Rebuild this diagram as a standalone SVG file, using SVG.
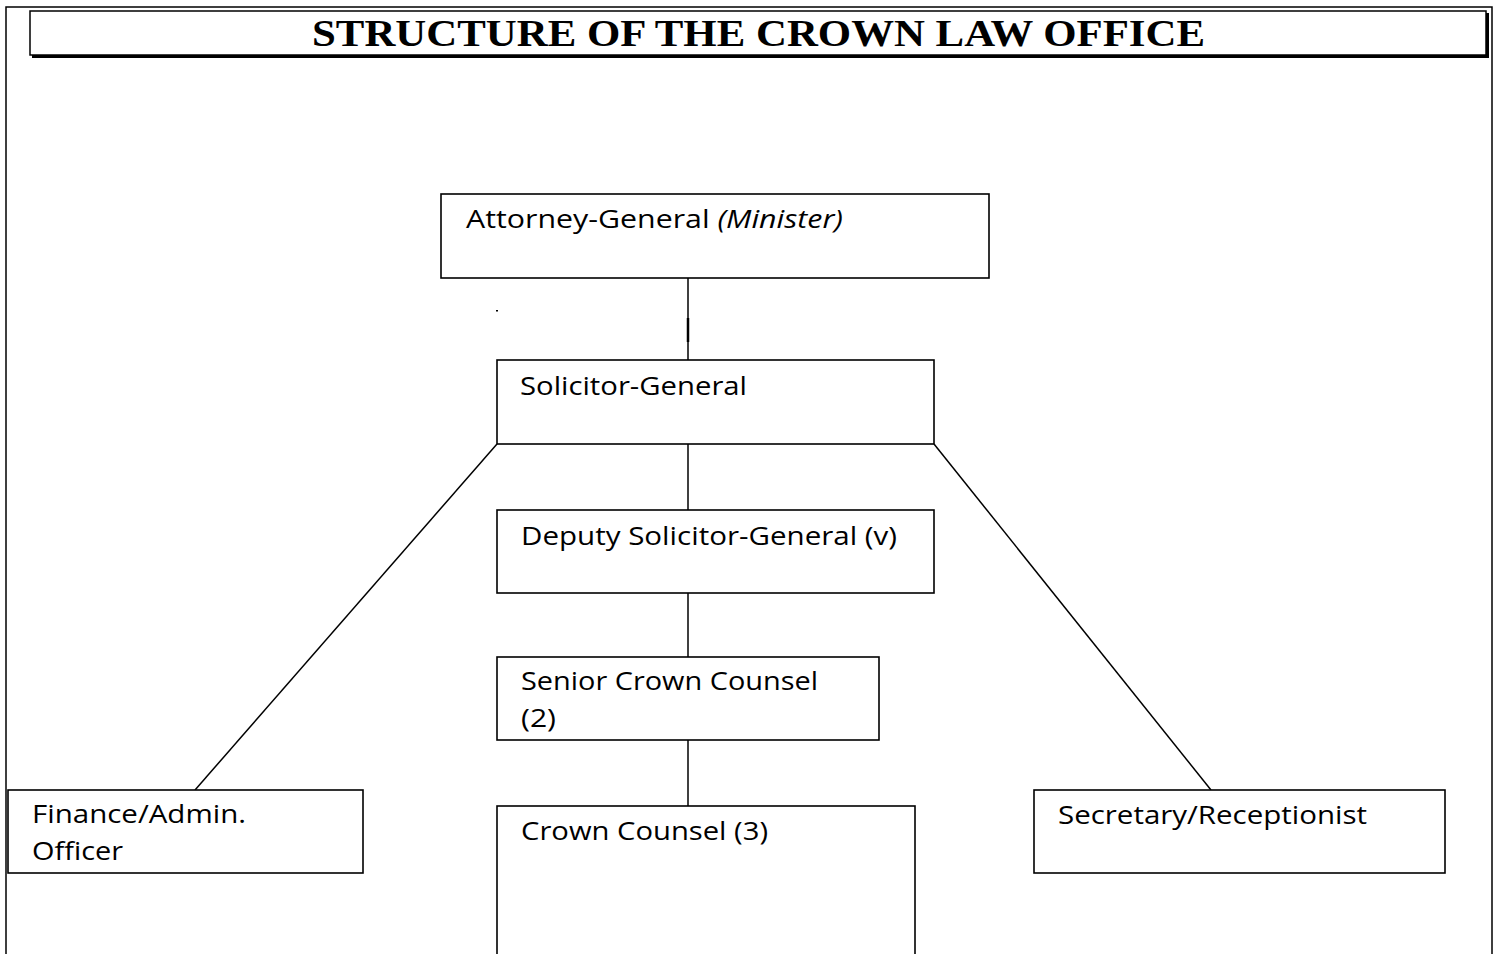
<svg xmlns="http://www.w3.org/2000/svg" width="1499" height="954" viewBox="0 0 1499 954">
  <style>
    .frame { fill: none; stroke: #000; stroke-width: 1.5; }
    .box { fill: #fff; stroke: #000; stroke-width: 1.6; }
    .conn { fill: none; stroke: #000; stroke-width: 1.5; }
    .lbl { font-family: "Open Sans", "Liberation Sans", sans-serif; font-size: 25px; fill: #000; }
    .title { font-family: "Liberation Serif", "Times New Roman", serif; font-weight: bold; font-size: 38px; fill: #000; }
  </style>
  <rect width="1499" height="954" fill="#fff"/>

  <!-- page frame -->
  <g id="page-frame">
    <path class="frame" d="M6,954 V7 H1492 V954"/>
  </g>

  <!-- heading banner with drop shadow on bottom/right -->
  <g id="title">
    <rect class="frame" x="30" y="11" width="1456" height="44"/>
    <path d="M32,56.5 H1487.5 V13" fill="none" stroke="#000" stroke-width="3"/>
    <text class="title" x="312" y="46" textLength="893" lengthAdjust="spacingAndGlyphs">STRUCTURE OF THE CROWN LAW OFFICE</text>
  </g>

  <!-- reporting lines -->
  <g id="connectors">
    <line class="conn" x1="688" y1="278" x2="688" y2="360"/>
    <line x1="688" y1="318" x2="688" y2="342" stroke="#000" stroke-width="2.5"/>
    <line class="conn" x1="688" y1="444" x2="688" y2="510"/>
    <line class="conn" x1="688" y1="593" x2="688" y2="657"/>
    <line class="conn" x1="688" y1="740" x2="688" y2="806"/>
    <line class="conn" x1="497" y1="444" x2="195" y2="790"/>
    <line class="conn" x1="934" y1="444" x2="1211" y2="790"/>
    <rect x="496" y="310" width="2" height="1.5" fill="#000"/>
  </g>

  <g id="attorney-general">
    <rect class="box" x="441" y="194" width="548" height="84"/>
    <text class="lbl" x="466" y="228" textLength="377" lengthAdjust="spacingAndGlyphs">Attorney-General <tspan font-style="italic">(Minister)</tspan></text>
  </g>

  <g id="solicitor-general">
    <rect class="box" x="497" y="360" width="437" height="84"/>
    <text class="lbl" x="520" y="395" textLength="227" lengthAdjust="spacingAndGlyphs">Solicitor-General</text>
  </g>

  <g id="deputy-solicitor-general">
    <rect class="box" x="497" y="510" width="437" height="83"/>
    <text class="lbl" x="521" y="545" textLength="376" lengthAdjust="spacingAndGlyphs">Deputy Solicitor-General (v)</text>
  </g>

  <g id="senior-crown-counsel">
    <rect class="box" x="497" y="657" width="382" height="83"/>
    <text class="lbl" x="521" y="690" textLength="297" lengthAdjust="spacingAndGlyphs">Senior Crown Counsel</text>
    <text class="lbl" x="521" y="727" textLength="35" lengthAdjust="spacingAndGlyphs">(2)</text>
  </g>

  <g id="crown-counsel">
    <rect class="box" x="497" y="806" width="418" height="160"/>
    <text class="lbl" x="521" y="840" textLength="247" lengthAdjust="spacingAndGlyphs">Crown Counsel (3)</text>
  </g>

  <g id="finance-admin-officer">
    <rect class="box" x="8" y="790" width="355" height="83"/>
    <text class="lbl" x="32" y="823" textLength="214" lengthAdjust="spacingAndGlyphs">Finance/Admin.</text>
    <text class="lbl" x="32" y="860" textLength="91" lengthAdjust="spacingAndGlyphs">Officer</text>
  </g>

  <g id="secretary-receptionist">
    <rect class="box" x="1034" y="790" width="411" height="83"/>
    <text class="lbl" x="1058" y="824" textLength="309" lengthAdjust="spacingAndGlyphs">Secretary/Receptionist</text>
  </g>
</svg>
